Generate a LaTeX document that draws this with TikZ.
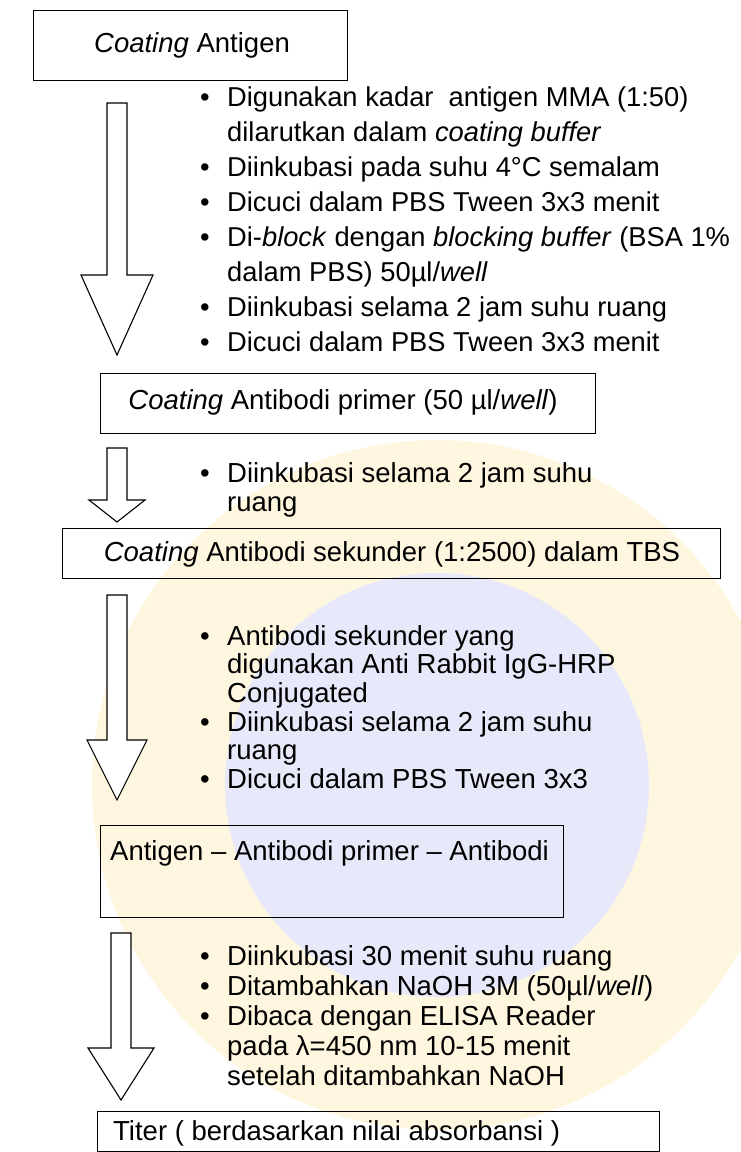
\documentclass[tikz,border=0pt]{standalone}
\usepackage{fontspec}
\setmainfont{Liberation Sans}
\usetikzlibrary{calc}

% block arrow: start, tip, head length, shaft half width, head half width
\newcommand{\blkarrow}[5]{%
  \draw[arrowshape] ($(#1)+(-#4,0)$) -- ($(#1)+(#4,0)$) -- ($(#2)+(#4,-#3)$)
    -- ($(#2)+(#5,-#3)$) -- (#2) -- ($(#2)+(-#5,-#3)$) -- ($(#2)+(-#4,-#3)$) -- cycle;}
\newcommand{\bul}{\makebox[27pt][l]{\textbullet}}
\newcommand{\ind}{\hspace*{27pt}}

\definecolor{wmyellow}{RGB}{254,246,222}
\definecolor{wmblue}{RGB}{231,232,249}

\begin{document}
\begin{tikzpicture}[x=1pt,y=-1pt,
  box/.style={draw, line width=1.3pt, inner sep=0pt},
  arrowshape/.style={draw, line width=1.1pt, fill=white, line join=miter},
  lbl/.style={font=\fontsize{27.5}{32}\selectfont, inner sep=0pt},
  lst/.style={anchor=north west, align=left, inner sep=0pt}]
\useasboundingbox (0,0) rectangle (740,1152);
\fill[white] (0,0) rectangle (740,1152);

% faint seal in the background
\fill[wmyellow, even odd rule] (437,785) circle (345) (437,785) circle (212);
\fill[wmblue] (437,785) circle (212);

% boxes
\node[box, minimum width=314pt, minimum height=70pt, anchor=north west] (b1) at (33,10) {};
\node[lbl] (t1) at (192,45) {\textit{Coating} Antigen};

\node[box, minimum width=495pt, minimum height=60pt, anchor=north west] (b2) at (100,373) {};
\node[lbl] (t2) at (343,402) {\textit{Coating} Antibodi primer (50 µl/\textit{well})};

\node[box, minimum width=658pt, minimum height=50pt, anchor=north west] (b3) at (62,528) {};
\node[lbl] (t3) at (392,554) {\textit{Coating} Antibodi sekunder (1:2500) dalam TBS};

\node[box, minimum width=463pt, minimum height=92pt, anchor=north west] (b4) at (100,825) {};
\node[lbl, anchor=west] (t4) at (110,853) {Antigen – Antibodi primer – Antibodi};

\node[box, minimum width=562pt, minimum height=40pt, anchor=north west] (b5) at (97,1111) {};
\node[lbl, anchor=west] (t5) at (113,1133) {Titer ( berdasarkan nilai absorbansi )};

% arrows between the steps
\coordinate (a1s) at (117,103);  \coordinate (a1e) at (117,355);
\coordinate (a2s) at (117,448);  \coordinate (a2e) at (117,522);
\coordinate (a3s) at (117,595);  \coordinate (a3e) at (117,800);
\coordinate (a4s) at (121,933);  \coordinate (a4e) at (121,1100);
\blkarrow{a1s}{a1e}{80}{10}{36}
\blkarrow{a2s}{a2e}{22}{10}{28}
\blkarrow{a3s}{a3e}{60}{10}{30}
\blkarrow{a4s}{a4e}{52}{10}{33}

% step notes
\node[lst, font=\fontsize{27.3}{35}\selectfont] (l1) at (200,87) {%
\bul Digunakan kadar\ \ antigen MMA (1:50)\\
\ind dilarutkan dalam \textit{coating buffer}\\
\bul Diinkubasi pada suhu 4°C semalam\\
\bul Dicuci dalam PBS Tween 3x3 menit\\
\bul Di-\textit{block} dengan \textit{blocking buffer} (BSA 1\%\\
\ind dalam PBS) 50µl/\textit{well}\\
\bul Diinkubasi selama 2 jam suhu ruang\\
\bul Dicuci dalam PBS Tween 3x3 menit};

\node[lst, font=\fontsize{27.5}{29}\selectfont] (l2) at (200,462) {%
\bul Diinkubasi selama 2 jam suhu\\
\ind ruang};

\node[lst, font=\fontsize{27.5}{28.7}\selectfont] (l3) at (200,625) {%
\bul Antibodi sekunder yang\\
\ind digunakan Anti Rabbit IgG-HRP\\
\ind Conjugated\\
\bul Diinkubasi selama 2 jam suhu\\
\ind ruang\\
\bul Dicuci dalam PBS Tween 3x3};

\node[lst, font=\fontsize{27.5}{30}\selectfont] (l4) at (200,945) {%
\bul Diinkubasi 30 menit suhu ruang\\
\bul Ditambahkan NaOH 3M (50µl/\textit{well})\\
\bul Dibaca dengan ELISA Reader\\
\ind pada λ=450 nm 10-15 menit\\
\ind setelah ditambahkan NaOH};
\end{tikzpicture}
\end{document}
